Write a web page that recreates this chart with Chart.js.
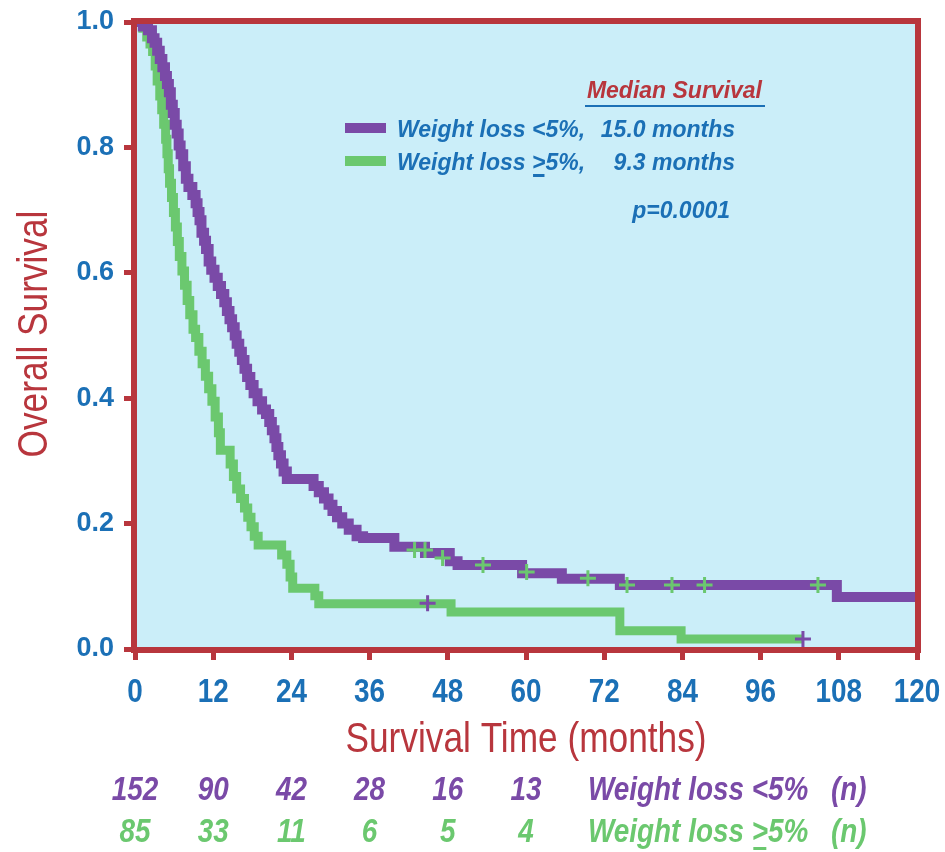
<!DOCTYPE html>
<html lang="en">
<head>
<meta charset="UTF-8">
<title>Overall Survival by Weight Loss</title>
<script src="https://cdn.jsdelivr.net/npm/chart.js"></script>
<style>
    html, body { margin: 0; padding: 0; background: #ffffff; }
    #wrap { width: 945px; height: 852px; }
</style>
</head>
<body>
<div id="wrap"><canvas id="kmChart" width="945" height="852"></canvas></div>
<script>
    // Kaplan-Meier steps, weight loss < 5%
    const lowTimes = [0, 1.2, 2.0, 2.6, 3.0, 3.4, 3.8, 4.2, 4.6, 4.9, 5.2, 5.5, 5.8, 6.1, 6.4, 6.7, 7.0, 7.4, 7.8,
        8.2, 8.8, 9.3, 9.6, 9.9, 10.2, 10.6, 10.9, 11.3, 11.7, 12.2, 12.7, 13.2, 13.7, 14.1, 14.5, 14.9, 15.3,
        15.6, 16.0, 16.4, 16.8, 17.2, 17.7, 18.2, 18.8, 19.5, 20.1, 20.6, 21.0, 21.4, 21.7, 22.0, 22.4, 22.8,
        23.3, 27.4, 28.2, 29.0, 29.7, 30.3, 31.0, 31.8, 32.8, 34.0, 35.0, 39.8, 44.5, 48.3, 49.5, 59.4, 65.5,
        74.4, 107.7, 120];
    const lowSurv = [1.0, 0.993, 0.987, 0.974, 0.967, 0.954, 0.941, 0.928, 0.914, 0.901, 0.888, 0.868, 0.855,
        0.836, 0.822, 0.803, 0.789, 0.770, 0.750, 0.737, 0.724, 0.711, 0.697, 0.684, 0.664, 0.651, 0.638, 0.618,
        0.605, 0.592, 0.579, 0.566, 0.553, 0.539, 0.526, 0.513, 0.500, 0.487, 0.474, 0.461, 0.447, 0.434, 0.421,
        0.408, 0.395, 0.382, 0.375, 0.362, 0.349, 0.336, 0.322, 0.309, 0.296, 0.283, 0.271, 0.260, 0.250, 0.240,
        0.230, 0.220, 0.210, 0.200, 0.190, 0.180, 0.177, 0.163, 0.153, 0.140, 0.134, 0.121, 0.112, 0.102, 0.083,
        0.083];

    // Kaplan-Meier steps, weight loss >= 5%
    const highTimes = [0, 1.2, 1.8, 2.3, 2.7, 3.1, 3.4, 3.8, 4.1, 4.4, 4.7, 4.9, 5.1, 5.3, 5.6, 5.9, 6.2, 6.5,
        6.8, 7.2, 7.6, 8.0, 8.4, 8.9, 9.3, 9.8, 10.3, 10.8, 11.3, 11.8, 12.3, 12.8, 13.1, 14.6, 15.1, 15.6, 16.2,
        16.8, 17.3, 17.8, 18.3, 18.9, 22.5, 23.3, 23.8, 24.2, 27.6, 28.2, 48.5, 74.4, 83.8, 102.5];
    const highSurv = [1.0, 0.990, 0.976, 0.965, 0.953, 0.930, 0.906, 0.882, 0.860, 0.837, 0.813, 0.790, 0.766,
        0.743, 0.720, 0.696, 0.673, 0.650, 0.626, 0.603, 0.580, 0.556, 0.533, 0.510, 0.497, 0.475, 0.455, 0.435,
        0.415, 0.395, 0.370, 0.345, 0.317, 0.295, 0.275, 0.255, 0.240, 0.225, 0.210, 0.195, 0.180, 0.166, 0.150,
        0.135, 0.115, 0.097, 0.085, 0.072, 0.059, 0.029, 0.016, 0.016];

    // censor marks
    const lowCensorTimes = [42.9, 44.5, 47.2, 53.4, 60.1, 69.5, 75.5, 82.4, 87.4, 104.8];
    const lowCensorSurv = [0.158, 0.158, 0.145, 0.134, 0.123, 0.113, 0.102, 0.102, 0.102, 0.102];
    const highCensorTimes = [44.9, 102.5];
    const highCensorSurv = [0.073, 0.016];

    // numbers at risk
    const riskTimes = [0, 12, 24, 36, 48, 60];
    const riskLow = [152, 90, 42, 28, 16, 13];
    const riskHigh = [85, 33, 11, 6, 5, 4];

    const xTicks = [0, 12, 24, 36, 48, 60, 72, 84, 96, 108, 120];
    const yTicks = [0, 0.2, 0.4, 0.6, 0.8, 1.0];

    const PURPLE = '#7a4aa7';
    const GREEN = '#6bc86f';
    const RED = '#b8363d';
    const BLUE = '#1b70b6';
    const BG = '#cbeef9';
    const SANS = "'Liberation Sans', Arial, sans-serif";
    const NARROW_X = 0.82; // squeeze Liberation Sans into a narrow face

    const pts = (xs, ys) => xs.map((x, i) => ({ x: x, y: ys[i] }));

    // draws text squeezed horizontally; parts = [[text, underline], ...]
    function narrow(ctx, parts, x, y, align) {
        if (typeof parts === 'string') parts = [[parts, false]];
        const total = parts.reduce((s, p) => s + ctx.measureText(p[0]).width, 0);
        ctx.save();
        ctx.translate(x, y);
        ctx.scale(NARROW_X, 1);
        ctx.textAlign = 'left';
        let cx = align === 'center' ? -total / 2 : (align === 'right' ? -total : 0);
        parts.forEach(p => {
            const w = ctx.measureText(p[0]).width;
            ctx.fillText(p[0], cx, 0);
            if (p[1]) ctx.fillRect(cx + 2, 5, w - 4, 3);
            cx += w;
        });
        ctx.restore();
    }

    function underlined(ctx, parts, x, y) {
        let cx = x;
        parts.forEach(p => {
            const w = ctx.measureText(p[0]).width;
            ctx.fillText(p[0], cx, y);
            if (p[1]) ctx.fillRect(cx + 1, y + 4, w - 2, 3);
            cx += w;
        });
    }

    const decor = {
        id: 'decor',
        beforeDraw(chart) {
            const { ctx, chartArea: a } = chart;
            ctx.save();
            ctx.fillStyle = '#ffffff';
            ctx.fillRect(0, 0, chart.width, chart.height);
            ctx.fillStyle = BG;
            ctx.fillRect(a.left, a.top, a.right - a.left, a.bottom - a.top);
            ctx.restore();
        },
        afterDatasetsDraw(chart) {
            const { ctx, chartArea: a } = chart;
            ctx.save();
            ctx.strokeStyle = RED;
            ctx.lineWidth = 6;
            ctx.strokeRect(a.left - 1, a.top - 1, a.right - a.left + 2, a.bottom - a.top + 2);
            ctx.restore();
        },
        afterDraw(chart) {
            const { ctx, chartArea: a } = chart;
            const xs = chart.scales.x;
            ctx.save();

            // x tick labels from the scale's own ticks
            ctx.fillStyle = BLUE;
            ctx.font = 'bold 34px ' + SANS;
            ctx.textBaseline = 'alphabetic';
            xs.ticks.forEach(t => {
                narrow(ctx, String(t.value), xs.getPixelForValue(t.value), 702, 'center');
            });

            // axis titles
            ctx.fillStyle = RED;
            ctx.font = '43px ' + SANS;
            narrow(ctx, 'Survival Time (months)', (a.left + a.right) / 2, 752, 'center');
            ctx.save();
            ctx.translate(47, 334);
            ctx.rotate(-Math.PI / 2);
            narrow(ctx, 'Overall Survival', 0, 0, 'center');
            ctx.restore();

            // legend
            ctx.font = 'italic bold 23px ' + SANS;
            ctx.fillStyle = RED;
            ctx.textAlign = 'right';
            ctx.fillText('Median Survival', 762, 98);
            ctx.fillStyle = BLUE;
            ctx.fillRect(585, 105, 180, 2);

            ctx.lineWidth = 10;
            ctx.strokeStyle = PURPLE;
            ctx.beginPath(); ctx.moveTo(345, 128); ctx.lineTo(386, 128); ctx.stroke();
            ctx.strokeStyle = GREEN;
            ctx.beginPath(); ctx.moveTo(345, 161); ctx.lineTo(386, 161); ctx.stroke();

            ctx.fillStyle = BLUE;
            ctx.textAlign = 'left';
            ctx.fillText('Weight loss <5%,', 397, 137);
            underlined(ctx, [['Weight loss ', false], ['>', true], ['5%,', false]], 397, 170);
            ctx.textAlign = 'right';
            ctx.fillText('15.0 months', 735, 137);
            ctx.fillText('9.3 months', 735, 170);
            ctx.fillText('p=0.0001', 730, 218);

            // numbers at risk
            ctx.font = 'italic bold 34px ' + SANS;
            riskTimes.forEach((t, i) => {
                const px = xs.getPixelForValue(t);
                ctx.fillStyle = PURPLE;
                narrow(ctx, String(riskLow[i]), px, 800, 'center');
                ctx.fillStyle = GREEN;
                narrow(ctx, String(riskHigh[i]), px, 842, 'center');
            });
            ctx.fillStyle = PURPLE;
            narrow(ctx, 'Weight loss <5%', 588, 800, 'left');
            narrow(ctx, '(n)', 831, 800, 'left');
            ctx.fillStyle = GREEN;
            narrow(ctx, [['Weight loss ', false], ['>', true], ['5%', false]], 588, 842, 'left');
            narrow(ctx, '(n)', 831, 842, 'left');

            ctx.restore();
        }
    };

    new Chart(document.getElementById('kmChart').getContext('2d'), {
        type: 'line',
        data: {
            datasets: [
                {
                    label: 'Censored (<5%)',
                    data: pts(lowCensorTimes, lowCensorSurv),
                    showLine: false,
                    pointStyle: 'cross',
                    pointRadius: 8,
                    pointBorderWidth: 3,
                    borderColor: GREEN,
                    backgroundColor: GREEN,
                    clip: false
                },
                {
                    label: 'Censored (>=5%)',
                    data: pts(highCensorTimes, highCensorSurv),
                    showLine: false,
                    pointStyle: 'cross',
                    pointRadius: 8,
                    pointBorderWidth: 3,
                    borderColor: PURPLE,
                    backgroundColor: PURPLE,
                    clip: false
                },
                {
                    label: 'Weight loss <5%',
                    data: pts(lowTimes, lowSurv),
                    stepped: 'before',
                    borderColor: PURPLE,
                    borderWidth: 10,
                    borderJoinStyle: 'miter',
                    pointRadius: 0,
                    fill: false
                },
                {
                    label: 'Weight loss >=5%',
                    data: pts(highTimes, highSurv),
                    stepped: 'before',
                    borderColor: GREEN,
                    borderWidth: 9,
                    borderJoinStyle: 'miter',
                    pointRadius: 0,
                    fill: false
                }
            ]
        },
        options: {
            responsive: false,
            animation: false,
            devicePixelRatio: 1,
            layout: { padding: { left: 0, top: 22, right: 28, bottom: 0 } },
            plugins: { legend: { display: false }, tooltip: { enabled: false } },
            scales: {
                x: {
                    type: 'linear',
                    min: 0,
                    max: 120,
                    afterFit: s => { s.height = 852 - 649; s.paddingLeft = 0; s.paddingRight = 0; },
                    afterBuildTicks: s => { s.ticks = xTicks.map(v => ({ value: v })); },
                    border: { display: false },
                    grid: { drawOnChartArea: false, drawTicks: true, tickLength: 11, tickWidth: 5, tickColor: RED },
                    ticks: { display: false }
                },
                y: {
                    min: 0,
                    max: 1,
                    afterFit: s => { s.width = 135; s.paddingTop = 0; s.paddingBottom = 0; },
                    afterBuildTicks: s => { s.ticks = yTicks.map(v => ({ value: v })); },
                    border: { display: false },
                    grid: { drawOnChartArea: false, drawTicks: true, tickLength: 11, tickWidth: 5, tickColor: RED },
                    ticks: {
                        color: BLUE,
                        padding: 10,
                        autoSkip: false,
                        callback: v => v.toFixed(1),
                        font: { family: SANS, size: 27, weight: 'bold' }
                    }
                }
            }
        },
        plugins: [decor]
    });
</script>
</body>
</html>
